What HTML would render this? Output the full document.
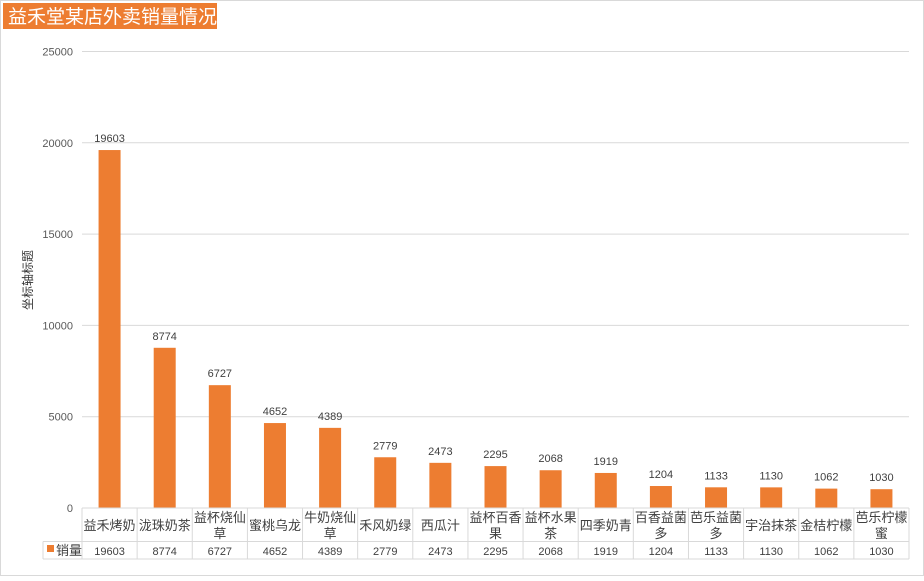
<!DOCTYPE html>
<html><head><meta charset="utf-8">
<style>
body{margin:0;background:#fff;}
svg text{font-family:"Liberation Sans","Noto Sans CJK SC",sans-serif;}
</style></head>
<body>
<svg id="chart" width="924" height="576" xmlns="http://www.w3.org/2000/svg">
<rect x="0.5" y="0.5" width="923" height="575" fill="#fff" stroke="#d9d9d9"/>
<rect x="3" y="3" width="214" height="26" fill="#ed7d31"/>
<text x="8" y="23" font-size="19" fill="#fff">益禾堂某店外卖销量情况</text>
<text transform="translate(32,280) rotate(-90)" text-anchor="middle" font-size="12" fill="#333">坐标轴标题</text>
<g id="grid"></g><g id="bars"></g><g id="table"></g>
</svg>
<script>
const categories=["益禾烤奶","泷珠奶茶","益杯烧仙|草","蜜桃乌龙","牛奶烧仙|草","禾风奶绿","西瓜汁","益杯百香|果","益杯水果|茶","四季奶青","百香益菌|多","芭乐益菌|多","宇治抹茶","金桔柠檬","芭乐柠檬|蜜"];
const values=[19603,8774,6727,4652,4389,2779,2473,2295,2068,1919,1204,1133,1130,1062,1030];
const yTicks=[0,5000,10000,15000,20000,25000];
const NS="http://www.w3.org/2000/svg";
const x0=82,x1=909,y0=508,yTop=51.5,yMax=25000;
const colW=(x1-x0)/categories.length;
const y=v=>y0-(v/yMax)*(y0-yTop);
function mk(tag,attrs,parent,text){const e=document.createElementNS(NS,tag);for(const k in attrs)e.setAttribute(k,attrs[k]);if(text!==undefined)e.textContent=text;parent.appendChild(e);return e;}
const grid=document.getElementById('grid'),bars=document.getElementById('bars'),tbl=document.getElementById('table');
yTicks.forEach(t=>{
  if(t>0){const l=mk('line',{x1:x0,x2:x1,y1:y(t),y2:y(t),stroke:'#d9d9d9'},grid);
  
  }
  const tx=mk('text',{x:73,y:y(t)+4,'text-anchor':'end','font-size':11,fill:'#595959'},grid,String(t));
  
  
});
const bw=22;
values.forEach((v,i)=>{
  const cx=x0+colW*(i+0.5);
  const r=mk('rect',{x:cx-bw/2,y:y(v),width:bw,height:y0-y(v),fill:'#ed7d31'},bars);
  
  
  const t=mk('text',{x:cx,y:y(v)-8,'text-anchor':'middle','font-size':11,fill:'#404040'},bars,String(v));
  
  
});
// table
const r1=541.5,r2=559;
const lines=[[x0,y0,x0,r2],[x0,y0,x1,y0],[43,r1,x1,r1],[43,r2,x1,r2],[43,r1,43,r2]];
for(let i=0;i<=categories.length;i++)lines.push([x0+colW*i,y0,x0+colW*i,r2]);
lines.forEach(a=>{const l=mk('line',{x1:a[0],y1:a[1],x2:a[2],y2:a[3],stroke:'#d9d9d9'},tbl);
  
  });
categories.forEach((c,i)=>{
  const cx=x0+colW*(i+0.5);
  const parts=c.split('|');
  parts.forEach((p,j)=>{
    const yy=parts.length===1?530:522+j*16;
    const t=mk('text',{x:cx,y:yy,'text-anchor':'middle','font-size':13,fill:'#404040'},tbl,p);
    
    
  });
  const t=mk('text',{x:cx,y:555,'text-anchor':'middle','font-size':11,fill:'#404040'},tbl,String(values[i]));
  
  
});
const lk=mk('rect',{x:47,y:545,width:7,height:7,fill:'#ed7d31'},tbl);


const lt=mk('text',{x:56,y:555,'font-size':13,fill:'#404040'},tbl,'销量');


</script>
</body></html>
